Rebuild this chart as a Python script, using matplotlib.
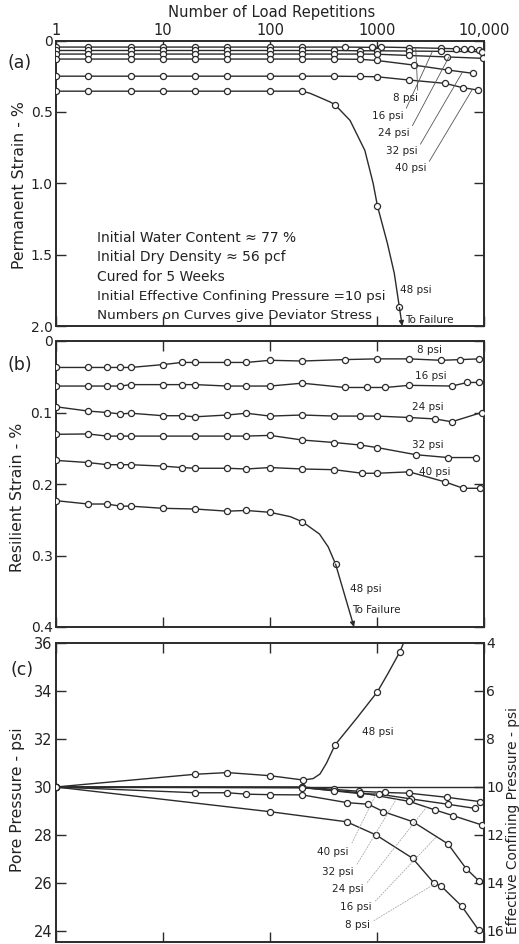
import numpy as np
import matplotlib
matplotlib.use("Agg")
import matplotlib.pyplot as plt
from matplotlib.ticker import FixedLocator, NullLocator, FixedFormatter

plt.rcParams['font.family'] = ['DejaVu Sans']

# ---------------- data ----------------
x_tick_values = [1, 10, 100, 1000, 10000]
x_tick_labels = ['1', '10', '100', '1000', '10,000']

# (a) permanent strain (%) vs number of load repetitions
a_n_8 = [1, 2, 5, 10, 20, 40, 100, 200, 500, 900, 1100, 2000, 4000, 5500, 6500, 7500, 9000]
a_s_8 = [0.046, 0.046, 0.046, 0.046, 0.046, 0.046, 0.046, 0.046, 0.046, 0.048, 0.046, 0.050, 0.055, 0.058, 0.060, 0.062, 0.065]
a_n_16 = [1, 2, 5, 10, 20, 40, 100, 200, 400, 700, 1000, 2000, 4000, 9500]
a_s_16 = [0.070, 0.070, 0.070, 0.070, 0.070, 0.070, 0.070, 0.070, 0.070, 0.072, 0.072, 0.074, 0.076, 0.078]
a_n_24 = [1, 2, 5, 10, 20, 40, 100, 200, 400, 700, 1000, 2000, 4500, 9800]
a_s_24 = [0.095, 0.095, 0.095, 0.095, 0.095, 0.095, 0.095, 0.095, 0.095, 0.095, 0.096, 0.105, 0.115, 0.125]
a_n_32 = [1, 2, 5, 10, 20, 40, 100, 200, 400, 700, 1000, 2200, 4600, 7900]
a_s_32 = [0.130, 0.130, 0.130, 0.130, 0.130, 0.130, 0.130, 0.130, 0.130, 0.132, 0.140, 0.172, 0.207, 0.230]
a_n_40 = [1, 2, 5, 10, 20, 40, 100, 200, 400, 700, 1000, 2000, 4300, 6300, 8700]
a_s_40 = [0.250, 0.250, 0.250, 0.250, 0.250, 0.250, 0.250, 0.250, 0.250, 0.252, 0.254, 0.277, 0.300, 0.330, 0.347]
a_n_48 = [1, 2, 5, 10, 20, 40, 100, 200, 405, 1010, 1620]
a_s_48 = [0.355, 0.355, 0.355, 0.355, 0.355, 0.355, 0.355, 0.355, 0.450, 1.160, 1.870]
a_path_n_48 = [1, 200, 237, 294, 363, 405, 560, 770, 920, 1010, 1250, 1450, 1620]
a_path_s_48 = [0.355, 0.355, 0.370, 0.400, 0.430, 0.450, 0.560, 0.770, 1.000, 1.160, 1.420, 1.630, 1.870]
a_yticks = [0, 0.5, 1.0, 1.5, 2.0]
a_ytick_labels = ['0', '0.5', '1.0', '1.5', '2.0']

# (b) resilient strain (%)
b_n_8 = [1, 2, 3, 4, 5, 10, 15, 20, 40, 60, 100, 200, 500, 1000, 2000, 4000, 6000, 9000]
b_s_8 = [0.037, 0.037, 0.037, 0.037, 0.037, 0.033, 0.030, 0.030, 0.030, 0.030, 0.027, 0.028, 0.026, 0.025, 0.025, 0.027, 0.026, 0.025]
b_n_16 = [1, 2, 3, 4, 5, 10, 15, 20, 40, 60, 100, 200, 500, 800, 1200, 2000, 5000, 7000, 9000]
b_s_16 = [0.063, 0.063, 0.063, 0.063, 0.061, 0.061, 0.061, 0.061, 0.063, 0.063, 0.063, 0.059, 0.065, 0.065, 0.065, 0.062, 0.063, 0.058, 0.058]
b_n_24 = [1, 2, 3, 4, 5, 10, 15, 20, 40, 60, 100, 200, 400, 700, 1000, 2000, 3500, 5000, 9500]
b_s_24 = [0.092, 0.098, 0.100, 0.102, 0.101, 0.1045, 0.1045, 0.106, 0.1035, 0.101, 0.105, 0.1035, 0.105, 0.105, 0.105, 0.107, 0.109, 0.113, 0.100]
b_n_32 = [1, 2, 3, 4, 5, 10, 20, 40, 60, 100, 200, 400, 700, 1000, 2300, 4600, 8500]
b_s_32 = [0.1305, 0.130, 0.133, 0.133, 0.133, 0.133, 0.133, 0.133, 0.133, 0.132, 0.1385, 0.142, 0.1455, 0.149, 0.159, 0.163, 0.163]
b_n_40 = [1, 2, 3, 4, 5, 10, 15, 20, 40, 60, 100, 200, 400, 730, 1000, 2000, 4300, 6400, 9200]
b_s_40 = [0.167, 0.170, 0.173, 0.173, 0.173, 0.175, 0.177, 0.178, 0.178, 0.179, 0.177, 0.179, 0.180, 0.185, 0.185, 0.183, 0.197, 0.206, 0.206]
b_n_48 = [1, 2, 3, 4, 5, 10, 20, 40, 60, 100, 200, 410]
b_s_48 = [0.2233, 0.228, 0.228, 0.231, 0.231, 0.234, 0.235, 0.238, 0.237, 0.2396, 0.2527, 0.312]
b_path_n_48 = [1, 2, 3, 4, 5, 10, 20, 40, 60, 100, 155, 200, 290, 350, 410]
b_path_s_48 = [0.2233, 0.228, 0.228, 0.231, 0.231, 0.234, 0.235, 0.238, 0.237, 0.2396, 0.2457, 0.2527, 0.270, 0.288, 0.312]
b_yticks = [0, 0.1, 0.2, 0.3, 0.4]
b_ytick_labels = ['0', '0.1', '0.2', '0.3', '0.4']

# (c) pore pressure (psi)
c_initial_pore = 30
c_cell_pressure = 40
c_n_40 = [1, 200, 400, 680, 1200, 2000, 4500, 9200]
c_p_40 = [30.0, 30.0, 29.9, 29.82, 29.77, 29.74, 29.57, 29.39]
c_n_32 = [1, 200, 700, 1050, 2100, 4600, 8200]
c_p_32 = [30.0, 29.98, 29.72, 29.70, 29.50, 29.28, 29.11]
c_n_24 = [1, 200, 400, 700, 2000, 3500, 5100, 9500]
c_p_24 = [30.0, 29.97, 29.85, 29.76, 29.40, 29.04, 28.81, 28.42]
c_n_16 = [1, 20, 40, 60, 100, 200, 520, 830, 1150, 2170, 4600, 6800, 8900]
c_p_16 = [30.0, 29.76, 29.76, 29.70, 29.68, 29.67, 29.35, 29.28, 28.97, 28.55, 27.63, 26.60, 26.10]
c_n_8 = [1, 100, 520, 980, 2150, 3400, 4000, 6200, 8900]
c_p_8 = [30.0, 28.97, 28.55, 28.00, 27.03, 26.00, 25.86, 25.03, 24.04]
c_n_48 = [1, 20, 40, 100, 204, 405, 1010, 1640]
c_p_48 = [30.0, 30.53, 30.60, 30.47, 30.29, 31.75, 33.97, 35.64]
c_path_n_48 = [1, 20, 40, 100, 204, 253, 293, 337, 405, 645, 1010, 1270, 1640, 1770]
c_path_p_48 = [30.0, 30.53, 30.60, 30.47, 30.29, 30.35, 30.54, 30.99, 31.75, 32.86, 33.97, 34.74, 35.64, 36.0]
c_yticks = [24, 26, 28, 30, 32, 34, 36]
c_right_ticks = [4, 6, 8, 10, 12, 14, 16]

# ---------------- figure ----------------
W, H = 519, 944
LC = '#2b2b2b'
TC = '#222222'
fig = plt.figure(figsize=(W / 100, H / 100), dpi=100)


def rect(l, t, r, b):
    return [l / W, 1 - b / H, (r - l) / W, (b - t) / H]


def fp(x, y):
    return (x / W, 1 - y / H)


ax_a = fig.add_axes(rect(56, 40.5, 484, 326))
ax_b = fig.add_axes(rect(56, 341, 484, 627))
ax_c = fig.add_axes(rect(56, 643, 484, 942))

for ax in (ax_a, ax_b, ax_c):
    ax.set_xscale('log')
    ax.set_xlim(1, 10000)
    ax.xaxis.set_major_locator(FixedLocator(x_tick_values))
    ax.xaxis.set_minor_locator(NullLocator())
    ax.yaxis.set_minor_locator(NullLocator())
    ax.tick_params(axis='both', which='major', direction='in', length=7, width=1.0,
                   color=LC, top=True, bottom=True, left=True, right=True,
                   labelsize=10, labelcolor=TC, pad=2.5)
    ax.tick_params(axis='x', labelbottom=False)
    for s in ax.spines.values():
        s.set_linewidth(1.4)
        s.set_color(LC)

line_kw = dict(color=LC, lw=1.0)
mk_kw = dict(ls='none', marker='o', ms=4.4, mfc='white', mec=LC, mew=0.9)


def curve(ax, n, v):
    ax.plot(n, v, **line_kw, zorder=2)
    ax.plot(n, v, **mk_kw, zorder=3)


# ---- (a)
ax_a.set_ylim(2.0, 0)
ax_a.yaxis.set_major_locator(FixedLocator(a_yticks))
ax_a.yaxis.set_major_formatter(FixedFormatter(a_ytick_labels))
ax_a.tick_params(axis='x', labeltop=True, labelsize=10.5, pad=2)
ax_a.xaxis.set_major_formatter(FixedFormatter(x_tick_labels))
a_curves = [(a_n_8, a_s_8), (a_n_16, a_s_16), (a_n_24, a_s_24), (a_n_32, a_s_32), (a_n_40, a_s_40)]
for n, s in a_curves:
    curve(ax_a, n, s)
ax_a.plot(a_path_n_48, a_path_s_48, **line_kw, zorder=2)
ax_a.plot(a_n_48, a_s_48, **mk_kw, zorder=3)
ax_a.annotate('', xy=(1720, 2.0), xytext=(a_n_48[-1], a_s_48[-1]),
              arrowprops=dict(arrowstyle='-|>', color=LC, lw=1.0, mutation_scale=7,
                              shrinkA=0, shrinkB=0), annotation_clip=False)

a_labels = ['8 psi', '16 psi', '24 psi', '32 psi', '40 psi']
a_label_pos = [(393, 98), (372, 116), (378, 133), (386, 151), (395, 168)]
a_targets = [2300, 3300, 4700, 6300, 7800]
for (n, s), lab, (x, y), nt in zip(a_curves, a_labels, a_label_pos, a_targets):
    yt = np.interp(np.log10(nt), np.log10(n), s)
    ax_a.annotate(lab, xy=(nt, yt), xytext=fp(x, y), textcoords='figure fraction',
                  fontsize=7.5, color=TC, va='center', ha='left',
                  arrowprops=dict(arrowstyle='-', color='#555555', lw=0.6,
                                  shrinkA=0, shrinkB=0, relpos=(1, 0.7)))
fig.text(*fp(400, 290), '48 psi', fontsize=7.5, color=TC, va='center', ha='left')
fig.text(*fp(405, 320), 'To Failure', fontsize=7.5, color=TC, va='center', ha='left')

info = ['Initial Water Content \u2248 77 %', 'Initial Dry Density \u2248 56 pcf',
        'Cured for 5 Weeks', 'Initial Effective Confining Pressure =10 psi',
        'Numbers on Curves give Deviator Stress']
for i, t in enumerate(info):
    fs = 10.0 if i < 3 else 9.7
    fig.text(*fp(97, 238 + i * 19.5), t, fontsize=fs, color=TC, va='center', ha='left')

# ---- (b)
ax_b.set_ylim(0.4, 0)
ax_b.yaxis.set_major_locator(FixedLocator(b_yticks))
ax_b.yaxis.set_major_formatter(FixedFormatter(b_ytick_labels))
b_curves = [(b_n_8, b_s_8), (b_n_16, b_s_16), (b_n_24, b_s_24), (b_n_32, b_s_32), (b_n_40, b_s_40)]
for n, s in b_curves:
    curve(ax_b, n, s)
ax_b.plot(b_path_n_48, b_path_s_48, **line_kw, zorder=2)
ax_b.plot(b_n_48, b_s_48, **mk_kw, zorder=3)
ax_b.annotate('', xy=(610, 0.4), xytext=(b_n_48[-1], b_s_48[-1]),
              arrowprops=dict(arrowstyle='-|>', color=LC, lw=1.0, mutation_scale=7,
                              shrinkA=0, shrinkB=0), annotation_clip=False)
b_labels = ['8 psi', '16 psi', '24 psi', '32 psi', '40 psi']
b_label_pos = [(417, 350), (415, 376), (412, 407), (412, 445), (419, 472)]
for lab, (x, y) in zip(b_labels, b_label_pos):
    fig.text(*fp(x, y), lab, fontsize=7.5, color=TC, va='center', ha='left')
fig.text(*fp(350, 589), '48 psi', fontsize=7.5, color=TC, va='center', ha='left')
fig.text(*fp(352, 610), 'To Failure', fontsize=7.5, color=TC, va='center', ha='left')

# ---- (c)
ax_c.set_ylim(23.54, 36)
ax_c.yaxis.set_major_locator(FixedLocator(c_yticks))
ax_c.tick_params(axis='y', right=False, labelsize=10.5)
ax_c.axhline(c_initial_pore, color=LC, lw=1.0, zorder=2)
c_curves = [(c_n_40, c_p_40), (c_n_32, c_p_32), (c_n_24, c_p_24), (c_n_16, c_p_16), (c_n_8, c_p_8)]
for n, p in c_curves:
    curve(ax_c, n, p)
ax_c.plot(c_path_n_48, c_path_p_48, **line_kw, zorder=2)
ax_c.plot(c_n_48, c_p_48, **mk_kw, zorder=3)
sec = ax_c.secondary_yaxis('right', functions=(lambda p: c_cell_pressure - p,
                                               lambda e: c_cell_pressure - e))
sec.yaxis.set_major_locator(FixedLocator(c_right_ticks))
sec.yaxis.set_minor_locator(NullLocator())
sec.tick_params(direction='in', length=7, width=1.0, color=LC, labelsize=10,
                labelcolor=TC, pad=1.5)
sec.spines['right'].set_linewidth(1.4)
sec.spines['right'].set_color(LC)

c_labels = ['40 psi', '32 psi', '24 psi', '16 psi', '8 psi']
c_label_pos = [(317, 852), (322, 872), (332, 889), (340, 907), (345, 925)]
c_targets = [1000, 1560, 2900, 3600, 3500]
for (n, p), lab, (x, y), nt in zip(c_curves, c_labels, c_label_pos, c_targets):
    yt = np.interp(np.log10(nt), np.log10(n), p)
    ax_c.annotate(lab, xy=(nt, yt), xytext=fp(x, y), textcoords='figure fraction',
                  fontsize=7.5, color=TC, va='center', ha='left',
                  arrowprops=dict(arrowstyle='-', color='#9a9a9a', lw=0.5, ls=(0, (2, 2)),
                                  shrinkA=1, shrinkB=0, relpos=(1, 0.7)))
fig.text(*fp(362, 732), '48 psi', fontsize=7.5, color=TC, va='center', ha='left')

# ---- titles / axis labels
fig.text(*fp(272, 12), 'Number of Load Repetitions', fontsize=10.6, color=TC, ha='center', va='center')
fig.text(*fp(20, 185), 'Permanent Strain - %', fontsize=11.3, color=TC, rotation=90, ha='center', va='center')
fig.text(*fp(18, 497), 'Resilient Strain - %', fontsize=11.3, color=TC, rotation=90, ha='center', va='center')
fig.text(*fp(18, 800), 'Pore Pressure - psi', fontsize=11.3, color=TC, rotation=90, ha='center', va='center')
fig.text(*fp(513, 821), 'Effective Confining Pressure - psi', fontsize=9.9, color=TC, rotation=90, ha='center', va='center')
fig.text(*fp(20, 63), '(a)', fontsize=12.5, color=TC, ha='center', va='center')
fig.text(*fp(20, 365), '(b)', fontsize=12.5, color=TC, ha='center', va='center')
fig.text(*fp(22, 670), '(c)', fontsize=12.5, color=TC, ha='center', va='center')

fig.savefig('out.png', dpi=100, facecolor='white')
